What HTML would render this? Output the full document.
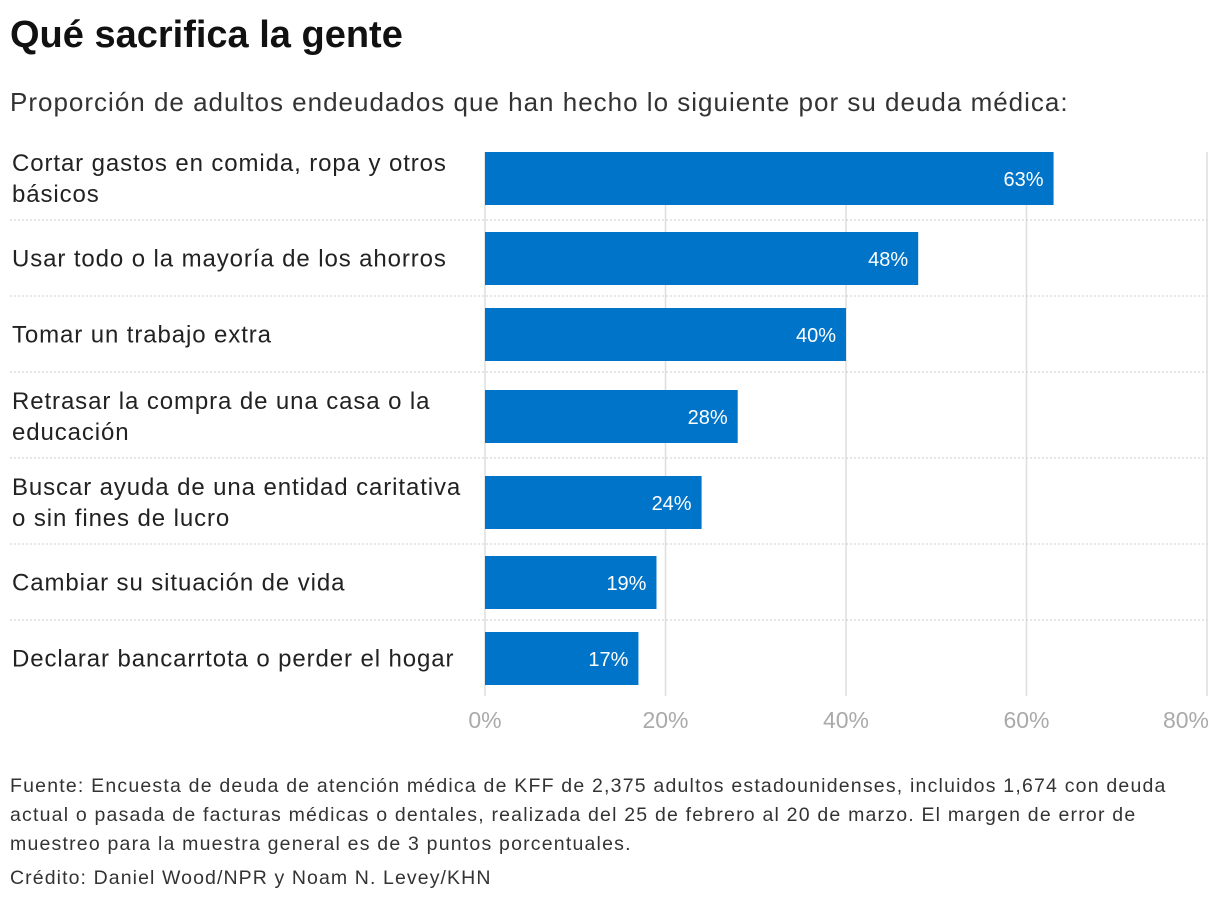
<!DOCTYPE html>
<html><head><meta charset="utf-8">
<style>
body{margin:0;background:#fff;font-family:"Liberation Sans",sans-serif;color:#222;}
#wrap{position:relative;width:1220px;height:904px;overflow:hidden;}
h1{position:absolute;left:10px;top:14px;margin:0;font-size:38px;font-weight:bold;color:#111;letter-spacing:0px;}
.sub{position:absolute;left:10px;top:87px;font-size:26px;color:#333;letter-spacing:1px;white-space:nowrap;}
.foot{position:absolute;left:10px;top:772px;width:1210px;font-size:19.5px;line-height:29px;color:#333;letter-spacing:1.2px;white-space:nowrap;}
.cred{position:absolute;left:10px;top:867px;font-size:19.5px;color:#333;letter-spacing:1.1px;}
</style></head><body>
<div id="wrap">
<h1>Qué sacrifica la gente</h1>
<div class="sub">Proporción de adultos endeudados que han hecho lo siguiente por su deuda médica:</div>
<svg id="chart" width="1220" height="740" style="position:absolute;left:0;top:0"></svg>
<div class="foot">Fuente: Encuesta de deuda de atención médica de KFF de 2,375 adultos estadounidenses, incluidos 1,674 con deuda<br>actual o pasada de facturas médicas o dentales, realizada del 25 de febrero al 20 de marzo. El margen de error de<br>muestreo para la muestra general es de 3 puntos porcentuales.</div>
<div class="cred">Crédito: Daniel Wood/NPR y Noam N. Levey/KHN</div>
</div>
<script>
const categories=[["Cortar gastos en comida, ropa y otros","básicos"],["Usar todo o la mayoría de los ahorros"],["Tomar un trabajo extra"],["Retrasar la compra de una casa o la","educación"],["Buscar ayuda de una entidad caritativa","o sin fines de lucro"],["Cambiar su situación de vida"],["Declarar bancarrtota o perder el hogar"]];
const values=[63,48,40,28,24,19,17];
const ticks=[0,20,40,60,80];
const NS="http://www.w3.org/2000/svg";
const svg=document.getElementById('chart');
const x0=485,x1=1207,xMax=80;
function xs(v){return x0+(x1-x0)*v/xMax;}
function mk(t,a){const e=document.createElementNS(NS,t);for(const k in a)e.setAttribute(k,a[k]);svg.appendChild(e);return e;}
let y=134;const rows=[];
categories.forEach(c=>{const two=c.length>1;const h=two?86:76;const off=two?18:12;rows.push({top:y,h:h,bar:y+off});y+=h;});
const bottom=y;
ticks.forEach((t,k)=>{
 const g=mk('line',{x1:xs(t),x2:xs(t),y1:152,y2:bottom,stroke:'#dedede','stroke-width':1.5});
 
 
 const last=k===ticks.length-1;
 const tl=mk('text',{x:last?xs(t)+2:xs(t),y:bottom+32,'text-anchor':last?'end':'middle','font-size':23,fill:'#aaa','font-family':'Liberation Sans, sans-serif'});
 tl.textContent=t+'%';
 
 
});
rows.forEach((r,i)=>{
 if(i>0){const s=mk('line',{x1:10,x2:1207,y1:r.top,y2:r.top,stroke:'#ccc','stroke-width':1,'stroke-dasharray':'2,2'});
 
 }
 const b=mk('rect',{x:x0,y:r.bar,width:xs(values[i])-x0,height:53,fill:'#0074c8'});
 
 
 const v=mk('text',{x:xs(values[i])-10,y:r.bar+34,'text-anchor':'end','font-size':20,fill:'#fff','font-family':'Liberation Sans, sans-serif'});
 v.textContent=values[i]+'%';
 
 
 const lines=categories[i];const cy=r.bar+26.5;
 lines.forEach((l,j)=>{
  const t=mk('text',{x:12,y:cy+8+(j-(lines.length-1)/2)*31,'font-size':24,'letter-spacing':0.9,fill:'#222','font-family':'Liberation Sans, sans-serif'});
  t.textContent=l;
  
  
 });
});
</script>
</body></html>
